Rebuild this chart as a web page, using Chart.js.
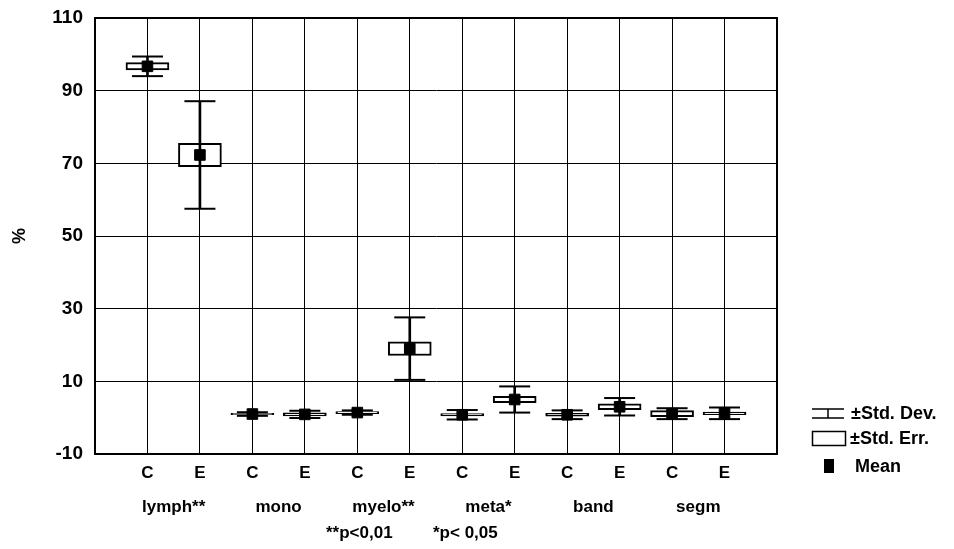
<!DOCTYPE html>
<html>
<head>
<meta charset="utf-8">
<script src="https://cdn.jsdelivr.net/npm/chart.js@4.4.0/dist/chart.umd.min.js"></script>
<style>
html,body{margin:0;padding:0;background:#fff;}
</style>
</head>
<body>
<canvas id="chart" width="954" height="549"></canvas>
<script>
// groups and the C / E sub categories under each one
const groups = ['lymph**','mono','myelo**','meta*','band','segm'];
const subLabels = ['C','E','C','E','C','E','C','E','C','E','C','E'];
const means  = [96.7, 72.3, 1.0, 0.9, 1.4, 19.0, 0.8, 5.0, 0.8, 3.0, 1.1, 1.2];
const stdErr = [1.0, 3.2, 0.2, 0.4, 0.3, 1.9, 0.3, 0.9, 0.4, 0.8, 0.85, 0.35];
const stdDev = [2.7, 14.8, 0.5, 1.0, 0.6, 8.6, 1.3, 3.6, 1.2, 2.4, 1.5, 1.6];
const yTicks = [-10, 10, 30, 50, 70, 90, 110];
const footnotes = ['**p<0,01', '*p< 0,05'];
const legendItems = ['\u00B1Std. Dev.', '\u00B1Std. Err.', 'Mean'];

const FONT = 'Liberation Sans, Arial, Helvetica, sans-serif';
const bold = size => ({family: FONT, size: size, weight: 'bold'});

const pos = means.map((m, i) => i + 1);
const boxData  = means.map((m, i) => ({x: pos[i], y: [m - stdErr[i], m + stdErr[i]]}));
const stemData = means.map((m, i) => ({x: pos[i], y: [m - stdDev[i], m + stdDev[i]]}));
const capData  = means.flatMap((m, i) => [{x: pos[i], y: m - stdDev[i]}, {x: pos[i], y: m + stdDev[i]}]);
const meanData = means.map((m, i) => ({x: pos[i], y: m}));

// frame + legend + footnote
const extras = {
  id: 'extras',
  afterDraw(chart) {
    const {ctx, chartArea: a} = chart;
    ctx.save();
    ctx.strokeStyle = '#000';
    ctx.lineWidth = 2;
    ctx.strokeRect(a.left, a.top, a.right - a.left, a.bottom - a.top);

    // legend icons
    ctx.lineWidth = 1.5;
    ctx.beginPath();
    ctx.moveTo(812, 409); ctx.lineTo(844, 409);
    ctx.moveTo(812, 418); ctx.lineTo(844, 418);
    ctx.moveTo(828, 409); ctx.lineTo(828, 418);
    ctx.stroke();
    ctx.strokeRect(812.5, 431.5, 33, 14);
    ctx.fillStyle = '#000';
    ctx.fillRect(824, 459, 10, 14);

    ctx.font = 'bold 18px ' + FONT;
    ctx.textBaseline = 'middle';
    ctx.textAlign = 'left';
    ctx.fillText(legendItems[0], 851, 414);
    ctx.fillText(legendItems[1], 850, 439);
    ctx.fillText(legendItems[2], 855, 467);

    ctx.font = 'bold 17px ' + FONT;
    ctx.fillText(footnotes[0], 326, 533);
    ctx.fillText(footnotes[1], 433, 533);
    ctx.restore();
  }
};

new Chart(document.getElementById('chart'), {
  type: 'bar',
  data: {
    datasets: [
      {type: 'scatter', data: meanData, pointStyle: 'rect', pointRadius: 7.5, pointBackgroundColor: '#000', pointBorderColor: '#000', pointBorderWidth: 1, backgroundColor: '#000', borderColor: '#000', order: 0},
      {type: 'scatter', data: capData, pointStyle: 'line', pointRadius: 15.5, pointBorderColor: '#000', pointBorderWidth: 2, borderColor: '#000', order: 1},
      {type: 'bar', data: stemData, grouped: false, barThickness: 2, maxBarThickness: 2, backgroundColor: '#000', borderWidth: 0, order: 2},
      {type: 'bar', data: boxData, grouped: false, barThickness: 43, maxBarThickness: 43, backgroundColor: '#fff', borderColor: '#000', borderWidth: 2, borderSkipped: false, order: 3}
    ]
  },
  options: {
    responsive: false,
    animation: false,
    layout: {autoPadding: false, padding: {top: 18, right: 177, bottom: 29, left: 0}},
    plugins: {legend: {display: false}, tooltip: {enabled: false}},
    scales: {
      x: {
        type: 'linear', min: 0, max: 13, offset: false, position: 'bottom', weight: 0,
        afterBuildTicks: s => { s.ticks = pos.map(v => ({value: v})); },
        afterFit: s => { s.height = 36; },
        ticks: {callback: (v, i) => subLabels[i], font: bold(17), color: '#000', padding: 9, autoSkip: false, maxRotation: 0},
        grid: {color: '#000', lineWidth: 1, drawTicks: false, offset: false},
        border: {color: '#000', width: 2}
      },
      x2: {
        type: 'linear', min: 0, max: 13, offset: false, position: 'bottom', weight: 1,
        afterBuildTicks: s => { s.ticks = groups.map((g, i) => ({value: 2 * i + 1.5})); },
        afterFit: s => { s.height = 30; },
        ticks: {callback: (v, i) => groups[i], font: bold(17), color: '#000', padding: 7, autoSkip: false, maxRotation: 0},
        grid: {display: false, drawTicks: false, offset: false},
        border: {display: false}
      },
      y: {
        min: -10, max: 110,
        afterBuildTicks: s => { s.ticks = yTicks.map(v => ({value: v})); },
        afterFit: s => { s.width = 95; s.paddingTop = 0; s.paddingBottom = 0; },
        ticks: {font: bold(19), color: '#000', padding: 12},
        grid: {color: '#000', lineWidth: 1, drawTicks: false},
        border: {color: '#000', width: 2},
        title: {display: true, text: '%', font: bold(18), color: '#000', padding: {top: 9, bottom: 0}}
      }
    }
  },
  plugins: [extras]
});
</script>
</body>
</html>
